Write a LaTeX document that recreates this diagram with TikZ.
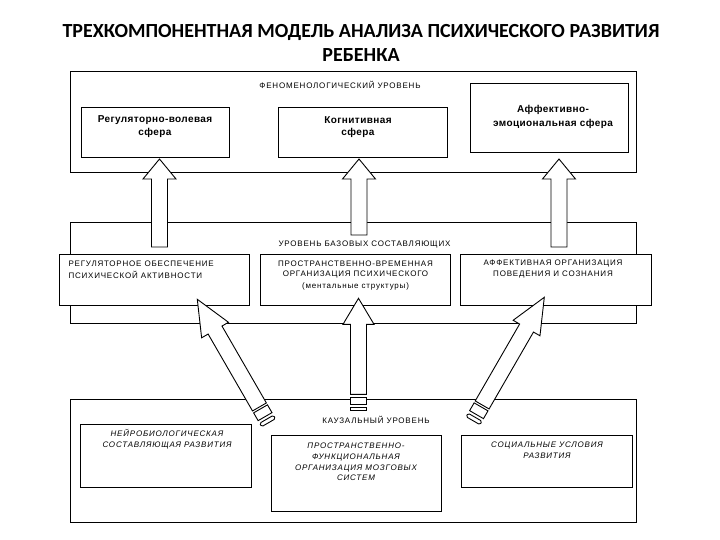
\documentclass[tikz,border=0pt]{standalone}
\usepackage{fontspec}
\setmainfont{Liberation Sans}
\newfontfamily\titlefont{Carlito}
\newfontfamily\capsfont[LetterSpace=10]{Liberation Sans}
\newfontfamily\sphfont[LetterSpace=4]{Liberation Sans}
\newcommand\blockarrow[7]{%
% #1 name, #2 tip x, #3 tip y, #4 rotation, #5 head length, #6 stem end, #7 head half width
\coordinate (#1) at (#2,#3);
\begin{scope}[shift={(#1)}, rotate=#4]
\draw[arr] (0,0) -- (#7,#5) -- (8,#5) -- (8,#6) -- (-8,#6) -- (-8,#5) -- (-#7,#5) -- cycle;
\end{scope}}
\begin{document}
\begin{tikzpicture}[x=1pt,y=-1pt,
  box/.style={draw, line width=0.9pt, fill=white, rectangle, inner sep=0pt},
  arr/.style={draw, line width=0.9pt, fill=white, line join=miter},
  lbl/.style={font=\capsfont\fontsize{8}{9}\selectfont, inner sep=0pt},
  sph/.style={font=\sphfont\bfseries\fontsize{10}{13}\selectfont, inner sep=0pt, align=center},
  itl/.style={font=\capsfont\itshape\fontsize{8}{10.6}\selectfont, inner sep=0pt, align=center}]
\useasboundingbox (0,0) rectangle (720,540);
\fill[white] (0,0) rectangle (720,540);

% title
\node[font=\titlefont\bfseries\fontsize{20}{24}\selectfont, align=center, inner sep=0pt] (title) at (361,42.5)
  {ТРЕХКОМПОНЕНТНАЯ МОДЕЛЬ АНАЛИЗА ПСИХИЧЕСКОГО РАЗВИТИЯ\\РЕБЕНКА};

% top level
\draw[box] (70.7,71.7) rectangle (636,172);
\node[lbl] (l1) at (340,85) {ФЕНОМЕНОЛОГИЧЕСКИЙ УРОВЕНЬ};
\draw[box] (81.7,107) rectangle (229,157);
\draw[box] (278.5,107) rectangle (447.7,157);
\draw[box] (470,83) rectangle (628.7,152);
\node[sph] (t1a) at (155,120) {Регуляторно-волевая};
\node[sph] (t1b) at (155,133) {сфера};
\node[sph] (t2a) at (358,120) {Когнитивная};
\node[sph] (t2b) at (358,133) {сфера};
\node[sph] (t3a) at (553,110) {Аффективно-};
\node[sph] (t3b) at (553,124) {эмоциональная сфера};

% middle level
\draw[box] (70.7,222) rectangle (636,323.3);
\draw[box] (59.3,254.3) rectangle (249.3,305);
\draw[box] (260.5,254.3) rectangle (450,305);
\draw[box] (460.5,254.3) rectangle (651,305);
\node[lbl, anchor=west] (m1a) at (68.3,264) {РЕГУЛЯТОРНОЕ ОБЕСПЕЧЕНИЕ};
\node[lbl, anchor=west] (m1b) at (68.3,275) {ПСИХИЧЕСКОЙ АКТИВНОСТИ};
\node[lbl] (m2a) at (355.5,264) {ПРОСТРАНСТВЕННО-ВРЕМЕННАЯ};
\node[lbl] (m2b) at (355.5,275) {ОРГАНИЗАЦИЯ ПСИХИЧЕСКОГО};
\node[lbl] (m2c) at (355.5,286.7) {(ментальные структуры)};
\node[lbl] (m3a) at (553,264) {АФФЕКТИВНАЯ ОРГАНИЗАЦИЯ};
\node[lbl] (m3b) at (553,275) {ПОВЕДЕНИЯ И СОЗНАНИЯ};

% bottom level
\draw[box] (70.7,399.3) rectangle (636,522);
\draw[box] (80.7,424) rectangle (251,487);
\draw[box] (271.5,435.7) rectangle (441,511);
\draw[box] (461,435.7) rectangle (632,487);
\node[itl] (b1) at (167,439) {НЕЙРОБИОЛОГИЧЕСКАЯ\\СОСТАВЛЯЮЩАЯ РАЗВИТИЯ};
\node[itl] (b2) at (356,462) {ПРОСТРАНСТВЕННО-\\ФУНКЦИОНАЛЬНАЯ\\ОРГАНИЗАЦИЯ МОЗГОВЫХ\\СИСТЕМ};
\node[itl] (b3) at (547,450.5) {СОЦИАЛЬНЫЕ УСЛОВИЯ\\РАЗВИТИЯ};

% arrows top
\blockarrow{a1}{159.5}{159}{0}{20}{88}{16.5}
\blockarrow{a2}{359}{159}{0}{20}{76}{16.5}
\blockarrow{a3}{559}{159}{0}{20}{88}{16.5}

% arrow middle bottom
\blockarrow{a5}{358.5}{298.3}{0}{26}{96}{15.5}
\begin{scope}[shift={(a5)}]
\draw[arr] (-8,99) rectangle (8,105.7);
\draw[arr] (-8,109.5) rectangle (8,112.5);
\end{scope}

% diagonal arrows
\blockarrow{a4}{197.3}{299.3}{30}{35.5}{124.3}{15.5}
\begin{scope}[shift={(a4)}, rotate=30]
\draw[arr] (-8,126.5) rectangle (8,135.5);
\draw[arr, rounded corners=1.5pt] (-8,138.5) rectangle (8,142.5);
\end{scope}
\blockarrow{a6}{544.3}{297.3}{-30}{35.5}{124.3}{15.5}
\begin{scope}[shift={(a6)}, rotate=-30]
\draw[arr] (-8,126.5) rectangle (8,135.5);
\draw[arr, rounded corners=1.5pt] (-8,138.5) rectangle (8,142.5);
\end{scope}

% level labels drawn last
\node[lbl] (l2) at (364.5,245) {УРОВЕНЬ БАЗОВЫХ СОСТАВЛЯЮЩИХ};
\node[lbl] (l3) at (376,420.3) {КАУЗАЛЬНЫЙ УРОВЕНЬ};
\end{tikzpicture}
\end{document}
